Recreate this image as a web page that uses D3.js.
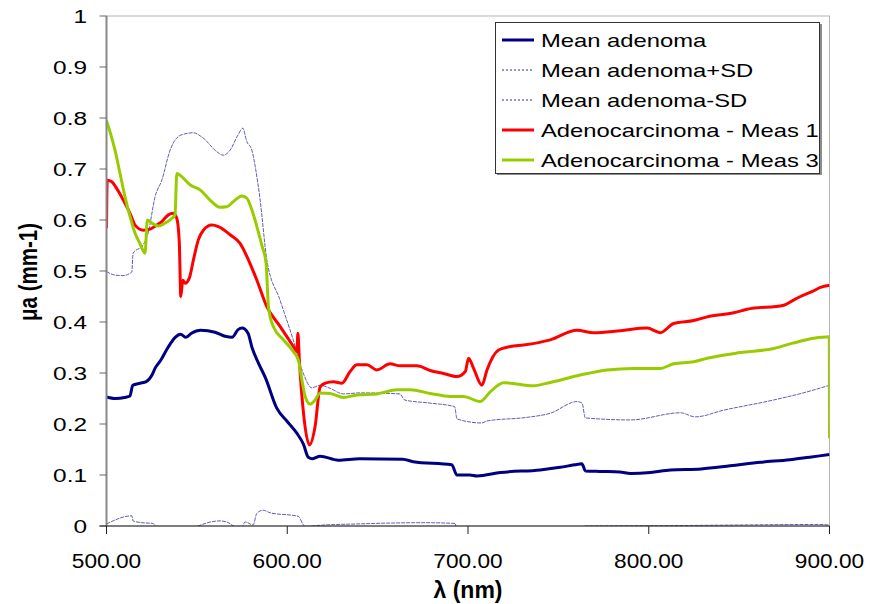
<!DOCTYPE html>
<html>
<head>
<meta charset="utf-8">
<script src="https://cdn.jsdelivr.net/npm/d3@7"></script>
<style>
  body { margin: 0; background: #fff; }
  text { font-family: "Liberation Sans", Arial, sans-serif; fill: #000; }
</style>
</head>
<body>
<svg id="chart" width="882" height="604"></svg>
<script>
// wavelength (nm), absorption mua (mm-1)
const meanAdenoma = [
  [500,0.253],[505,0.25],[510,0.252],[513,0.255],[514.5,0.276],[518.5,0.28],[522,0.283],
  [525,0.295],[527,0.31],[530,0.325],[534,0.35],[538,0.37],[541,0.376],[544,0.37],
  [547,0.378],[552,0.384],[556,0.383],[560,0.38],[565.6,0.372],[569.5,0.37],[572.8,0.385],
  [575,0.388],[578.3,0.378],[580.5,0.35],[584,0.32],[588,0.29],[594.2,0.231],[600,0.205],
  [605.3,0.182],[609,0.16],[611.6,0.135],[614,0.132],[618.2,0.137],[628.2,0.129],[640,0.132],
  [664,0.131],[669.7,0.126],[691,0.12],[693.9,0.1],[701,0.1],[705,0.098],[718,0.105],
  [740,0.11],[751,0.115],[759,0.12],[763,0.122],[765,0.108],[773,0.107],[784,0.106],
  [790,0.103],[801,0.105],[812,0.11],[829,0.112],[845,0.118],[862,0.125],[878,0.13],
  [889,0.135],[900,0.14]
];
const meanPlusSD = [
  [500,0.499],[504.7,0.492],[509.1,0.491],[514,0.498],[514.7,0.535],[520.2,0.551],[523,0.574],
  [526.9,0.646],[530.6,0.678],[535.2,0.737],[538.9,0.761],[542.4,0.768],[547.9,0.771],
  [553.4,0.761],[561,0.734],[564.5,0.727],[568.4,0.737],[572.8,0.767],[575.4,0.78],
  [577.6,0.754],[580.4,0.737],[582.6,0.698],[585,0.639],[588.7,0.522],[596,0.443],
  [603.3,0.365],[608.8,0.3],[613.6,0.271],[618.2,0.276],[623.7,0.27],[630.9,0.259],
  [640.4,0.261],[662.3,0.259],[665,0.247],[679,0.241],[692.6,0.234],[693.9,0.21],
  [707.7,0.202],[710.5,0.206],[732.6,0.213],[745.5,0.221],[760.3,0.244],[763.1,0.241],
  [764.9,0.212],[789.8,0.208],[817.5,0.222],[825.8,0.214],[841.3,0.227],[869,0.247],
  [887.6,0.263],[900,0.276]
];
const meanMinusSD = [
  [500,0.004],[514,0.02],[514.7,0.01],[519.5,0.0065],[525.7,0.005],[530,-0.02],[537,-0.03],
  [545,-0.01],[550.7,0.0],[562.8,0.01],[566.5,0.008],[572,-0.002],[574.8,-0.002],[576.7,0.008],
  [581.1,0.002],[583.2,0.025],[586.6,0.031],[590.5,0.026],[606,0.019],[609.9,-0.001],
  [616.4,0.001],[638.5,0.004],[675.2,0.0065],[692.9,0.005],[693.9,-0.01],[730,-0.008],
  [763,-0.004],[765,0.0],[820,0.001],[894,0.003],[900,0.002]
];
const meas1 = [
  [500,0.584],[500.4,0.678],[502.9,0.675],[505.6,0.662],[509.3,0.639],[513,0.613],[515.8,0.59],
  [520.4,0.58],[524.1,0.582],[526.9,0.588],[530.6,0.597],[534.2,0.61],[537,0.613],[538.9,0.603],
  [540.3,0.554],[541.1,0.45],[542.2,0.482],[543.5,0.476],[545.8,0.486],[548.1,0.522],
  [550.8,0.561],[553.6,0.58],[558.2,0.59],[561.9,0.587],[568.4,0.571],[573.9,0.554],
  [578.5,0.522],[583.2,0.482],[588.7,0.43],[596.1,0.391],[603.4,0.352],[605.3,0.342],
  [605.9,0.378],[606.7,0.325],[609,0.221],[612.3,0.159],[615.4,0.195],[618.2,0.273],
  [621,0.28],[625.6,0.283],[630.2,0.28],[634.8,0.303],[638.5,0.316],[644.1,0.316],
  [649.6,0.306],[656.9,0.318],[662.4,0.314],[671.7,0.314],[679,0.305],[686.5,0.299],
  [693.9,0.293],[698.5,0.303],[700.3,0.329],[703.1,0.309],[707.7,0.276],[710.5,0.306],
  [716.9,0.345],[723.4,0.352],[730.8,0.355],[745.5,0.365],[760.3,0.384],[769.5,0.379],
  [784.3,0.383],[799.1,0.388],[806.4,0.379],[813.8,0.397],[824.9,0.403],[832.3,0.41],
  [847,0.418],[854.4,0.425],[874.7,0.433],[880.1,0.443],[883.9,0.45],[890.6,0.46],
  [895,0.468],[900,0.472]
];
const meas3 = [
  [500,0.795],[502.2,0.77],[504.7,0.737],[507.5,0.691],[510.2,0.646],[513,0.607],[515.8,0.574],
  [518.5,0.554],[521.3,0.535],[522.6,0.6],[525,0.594],[528.7,0.588],[532.4,0.594],[536.1,0.603],
  [537.9,0.61],[538.9,0.691],[541.6,0.685],[546.2,0.669],[551.8,0.659],[557.3,0.639],
  [562.8,0.625],[566.5,0.626],[570.2,0.636],[574.8,0.647],[577.6,0.643],[580.4,0.62],
  [583.2,0.587],[585.9,0.551],[588.3,0.515],[589.6,0.43],[592.3,0.391],[597.9,0.365],
  [603.4,0.342],[606.2,0.325],[608.1,0.286],[609.9,0.254],[612.7,0.239],[615.4,0.247],
  [618.2,0.261],[623.7,0.26],[631.1,0.252],[638.5,0.257],[649.6,0.259],[660.7,0.267],
  [668,0.267],[679.1,0.26],[690.2,0.254],[697.5,0.254],[706.7,0.244],[712.3,0.263],
  [719.7,0.281],[736.3,0.275],[743.7,0.28],[762.1,0.296],[776.9,0.306],[791.6,0.309],
  [806.4,0.309],[813.8,0.318],[824.9,0.322],[832.3,0.329],[850.7,0.34],[869.2,0.348],
  [880.2,0.359],[891.3,0.368],[899.9,0.371],[900,0.172]
];
const xTicks = [500, 600, 700, 800, 900];
const yTicks = [0, 0.1, 0.2, 0.3, 0.4, 0.5, 0.6, 0.7, 0.8, 0.9, 1];
const seriesNames = ["Mean adenoma", "Mean adenoma+SD", "Mean adenoma-SD",
                     "Adenocarcinoma - Meas 1", "Adenocarcinoma - Meas 3"];

/* Scales */
const svg = d3.select("#chart");
const plotLeft = 106.5, plotRight = 829.5, plotTop = 16, plotBottom = 526;

const x = d3.scaleLinear().domain([500, 900]).range([plotLeft, plotRight]);
const y = d3.scaleLinear().domain([0, 1]).range([plotBottom, plotTop]);

const styles = [
  {color: "#000080", width: 3, dash: null},
  {color: "#2a2a96", width: 1, dash: "4,1"},
  {color: "#2a2a96", width: 1, dash: "4,1"},
  {color: "#ff0000", width: 3, dash: null},
  {color: "#99cc00", width: 3, dash: null}
];
const allSeries = [meanAdenoma, meanPlusSD, meanMinusSD, meas1, meas3];

// helper for the stretched-looking text of the original
function stretchedText(g, tx, ty, sx, str, size, anchor, weight) {
  return g.append("text")
    .attr("transform", `translate(${tx},${ty}) scale(${sx},1)`)
    .attr("text-anchor", anchor)
    .attr("font-size", size)
    .attr("font-weight", weight || "normal")
    .text(str);
}

svg.append("defs").append("clipPath").attr("id", "plot-clip")
  .append("rect")
  .attr("x", plotLeft).attr("y", plotTop)
  .attr("width", plotRight - plotLeft).attr("height", plotBottom - plotTop);

// plot area frame (top / right)
svg.append("rect")
  .attr("x", plotLeft).attr("y", plotTop)
  .attr("width", plotRight - plotLeft).attr("height", plotBottom - plotTop)
  .attr("fill", "none").attr("stroke", "#b4b4b4").attr("stroke-width", 1);

/* Lines */
const line = d3.line().curve(d3.curveMonotoneX).x(d => x(d[0])).y(d => y(d[1]));
const plot = svg.append("g").attr("clip-path", "url(#plot-clip)");

[1, 2, 0, 3, 4].forEach(i => {
  plot.append("path")
    .datum(allSeries[i])
    .attr("d", line)
    .attr("fill", "none")
    .attr("stroke", styles[i].color)
    .attr("stroke-width", styles[i].width)
    .attr("stroke-dasharray", styles[i].dash)
    .attr("stroke-linejoin", "round")
    .attr("opacity", i === 1 || i === 2 ? 0.75 : 1);
});

/* Axes */
const yAxisG = svg.append("g");
yAxisG.append("line")
  .attr("x1", plotLeft).attr("x2", plotLeft).attr("y1", plotTop).attr("y2", plotBottom)
  .attr("stroke", "#888").attr("stroke-width", 2);
yTicks.forEach(t => {
  yAxisG.append("line")
    .attr("x1", plotLeft - 7).attr("x2", plotLeft).attr("y1", y(t)).attr("y2", y(t))
    .attr("stroke", "#666").attr("stroke-width", 1);
  stretchedText(yAxisG, 87, y(t) + 7, 1.32, d3.format("")(t), 18.5, "end");
});

const xAxisG = svg.append("g");
xAxisG.append("line")
  .attr("x1", plotLeft - 7).attr("x2", plotRight).attr("y1", plotBottom).attr("y2", plotBottom)
  .attr("stroke", "#222").attr("stroke-width", 1);
xTicks.forEach(t => {
  xAxisG.append("line")
    .attr("x1", x(t)).attr("x2", x(t)).attr("y1", plotBottom).attr("y2", plotBottom + 8)
    .attr("stroke", "#222").attr("stroke-width", 1);
  stretchedText(xAxisG, x(t), 568, 1.08, d3.format(".2f")(t), 21, "middle");
});

// axis titles
svg.append("text")
  .attr("x", 468).attr("y", 598)
  .attr("text-anchor", "middle")
  .attr("font-size", 23).attr("font-weight", "bold")
  .text("λ (nm)");
svg.append("text")
  .attr("transform", "translate(37,272) rotate(-90) scale(1,1.25)")
  .attr("text-anchor", "middle")
  .attr("font-size", 20.5).attr("font-weight", "bold")
  .text("μa (mm-1)");

/* Legend */
const legend = svg.append("g");
legend.append("rect")
  .attr("x", 497).attr("y", 24).attr("width", 325).attr("height", 151)
  .attr("fill", "#8c8c8c");
legend.append("rect")
  .attr("x", 495.5).attr("y", 22.5).attr("width", 324).attr("height", 151)
  .attr("fill", "#fff").attr("stroke", "#333").attr("stroke-width", 1);

seriesNames.forEach((name, i) => {
  const base = 47 + i * 30;
  legend.append("line")
    .attr("x1", 502).attr("x2", 534).attr("y1", base - 7).attr("y2", base - 7)
    .attr("stroke", styles[i].color)
    .attr("stroke-width", styles[i].width)
    .attr("stroke-dasharray", styles[i].dash ? "2,2" : null);
  stretchedText(legend, 541, base, 1.3, name, 18.3, "start");
});
</script>
</body>
</html>
